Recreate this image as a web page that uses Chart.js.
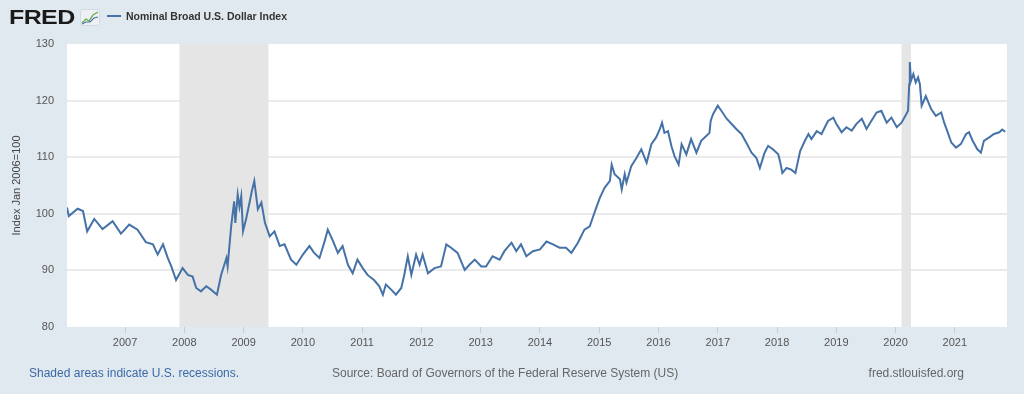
<!DOCTYPE html>
<html>
<head>
<meta charset="utf-8">
<script src="https://cdn.jsdelivr.net/npm/chart.js@4/dist/chart.umd.min.js"></script>
<style>
  html, body { margin: 0; padding: 0; background: #e1e9f0; }
  body { width: 1024px; height: 394px; position: relative; overflow: hidden; font-family: 'Liberation Sans', Arial, sans-serif; }
  #chart { position: absolute; left: 0; top: 0; }
  .logo { position: absolute; left: 9px; top: 6px; font-size: 20px; font-weight: bold; color: #1a1a1a; transform: scaleX(1.25); transform-origin: left top; letter-spacing: -0.5px; }
  .icon { position: absolute; left: 80px; top: 9px; }
  .legend { position: absolute; left: 107px; top: 10px; font-size: 10.5px; font-weight: bold; color: #333; white-space: nowrap; }
  .legend i { display: inline-block; width: 14px; height: 2px; background: #4572a7; vertical-align: middle; margin-right: 5px; position: relative; top: -1px; }
  .foot { position: absolute; top: 366px; font-size: 12px; white-space: nowrap; }
</style>
</head>
<body>
<canvas id="chart" width="1024" height="394"></canvas>
<div class="logo">FRED</div>
<svg class="icon" width="20" height="17" viewBox="0 0 20 17">
  <rect x="0.5" y="0.5" width="19" height="16" rx="2" fill="#eef1f3" stroke="#d3d9de"/>
  <polyline points="2,14 6,10 9,12 13,6 18,3" fill="none" stroke="#6aa84f" stroke-width="1.3"/>
  <polyline points="2,15 6,13 10,13 14,9 18,8" fill="none" stroke="#4572a7" stroke-width="1.1"/>
</svg>
<div class="legend"><i></i>Nominal Broad U.S. Dollar Index</div>
<div class="foot" style="left:29px; color:#3a6aa6;">Shaded areas indicate U.S. recessions.</div>
<div class="foot" style="left:332px; color:#666;">Source: Board of Governors of the Federal Reserve System (US)</div>
<div class="foot" style="right:60px; color:#666;">fred.stlouisfed.org</div>
<script>
// decimal years
const dates = [
  2006.02, 2006.05, 2006.20, 2006.29, 2006.36, 2006.48, 2006.62, 2006.79, 2006.93,
  2007.07, 2007.21, 2007.35, 2007.47, 2007.55, 2007.64, 2007.72, 2007.78, 2007.86, 2007.97,
  2008.06, 2008.14, 2008.20, 2008.28, 2008.37, 2008.45, 2008.55, 2008.62, 2008.71, 2008.73,
  2008.79, 2008.84, 2008.86, 2008.90, 2008.93, 2008.96, 2008.99,
  2009.04, 2009.10, 2009.14, 2009.18, 2009.24, 2009.30, 2009.36, 2009.44, 2009.52, 2009.61,
  2009.69, 2009.80, 2009.89, 2010.00,
  2010.11, 2010.19, 2010.28, 2010.36, 2010.42, 2010.50, 2010.59, 2010.67, 2010.76, 2010.84, 2010.92,
  2011.01, 2011.09, 2011.20, 2011.29, 2011.35, 2011.40, 2011.49, 2011.57, 2011.66, 2011.71,
  2011.77, 2011.83, 2011.91, 2011.97,
  2012.02, 2012.11, 2012.22, 2012.33, 2012.42, 2012.50, 2012.61, 2012.73, 2012.81, 2012.90,
  2013.01, 2013.09, 2013.20, 2013.32, 2013.40, 2013.52, 2013.60, 2013.68, 2013.77, 2013.88,
  2014.00, 2014.11, 2014.22, 2014.33, 2014.44, 2014.53, 2014.64, 2014.75, 2014.84, 2014.89, 2014.95,
  2015.01, 2015.09, 2015.18, 2015.21, 2015.26, 2015.35, 2015.38, 2015.43, 2015.46, 2015.54,
  2015.63, 2015.71, 2015.80, 2015.88, 2015.96,
  2016.02, 2016.06, 2016.10, 2016.16, 2016.22, 2016.27, 2016.34, 2016.39, 2016.47, 2016.55,
  2016.64, 2016.72, 2016.81, 2016.86, 2016.88, 2016.92,
  2017.00, 2017.06, 2017.15, 2017.23, 2017.32, 2017.40, 2017.48, 2017.57, 2017.65, 2017.71,
  2017.79, 2017.85, 2017.93,
  2018.02, 2018.05, 2018.09, 2018.16, 2018.24, 2018.31, 2018.39, 2018.47, 2018.53, 2018.58,
  2018.67, 2018.75, 2018.86, 2018.95,
  2019.00, 2019.09, 2019.17, 2019.26, 2019.34, 2019.43, 2019.51, 2019.59, 2019.68, 2019.76,
  2019.85, 2019.93,
  2020.02, 2020.10, 2020.18, 2020.21, 2020.23, 2020.24, 2020.26, 2020.30, 2020.34, 2020.38,
  2020.41, 2020.44, 2020.51, 2020.60, 2020.68, 2020.77, 2020.82, 2020.88, 2020.94,
  2021.02, 2021.10, 2021.19, 2021.24, 2021.30, 2021.38, 2021.44, 2021.49, 2021.58, 2021.66,
  2021.75, 2021.80, 2021.85
];
const values = [
  101.1, 99.6, 100.9, 100.5, 96.9, 99.1, 97.3, 98.7, 96.5,
  98.1, 97.2, 95.0, 94.6, 92.8, 94.6, 92.2, 90.7, 88.3, 90.4,
  89.2, 88.9, 86.9, 86.3, 87.2, 86.6, 85.7, 89.2, 92.2, 90.7,
  97.8, 102.2, 98.4, 103.4, 101.2, 103.1, 96.9,
  99.0, 102.0, 104.1, 105.8, 100.8, 102.0, 98.4, 96.0, 96.9, 94.3,
  94.6, 91.9, 91.0, 92.8,
  94.3, 93.1, 92.2, 94.9, 97.2, 95.4, 93.1, 94.3, 91.0, 89.5, 91.9,
  90.4, 89.2, 88.3, 87.2, 85.7, 87.5, 86.6, 85.7, 86.9, 89.2,
  92.5, 89.2, 92.8, 91.0,
  92.8, 89.5, 90.4, 90.7, 94.6, 94.0, 93.1, 90.1, 91.0, 91.9,
  90.7, 90.7, 92.5, 91.9, 93.4, 94.9, 93.4, 94.6, 92.5, 93.4,
  93.7, 95.1, 94.6, 94.0, 94.0, 93.1, 94.9, 97.2, 97.8, 99.3, 101.1,
  102.8, 104.6, 105.8, 108.7, 107.0, 106.1, 104.3, 107.0, 105.5, 108.4,
  109.9, 111.4, 109.0, 112.3, 113.5,
  114.9, 116.1, 114.3, 114.6, 111.9, 110.2, 108.7, 112.3, 110.5, 113.2,
  110.8, 112.9, 113.8, 114.3, 116.4, 117.6,
  119.1, 118.2, 116.8, 115.9, 114.9, 114.1, 112.6, 110.8, 109.9, 108.1,
  110.8, 112.0, 111.4,
  110.5, 109.3, 107.2, 108.1, 107.8, 107.2, 111.1, 112.9, 114.1, 113.2,
  114.6, 114.1, 116.4, 117.0,
  115.9, 114.4, 115.3, 114.7, 115.9, 116.8, 115.0, 116.4, 117.9, 118.2,
  116.1, 117.0,
  115.3, 116.1, 117.6, 118.2, 122.9, 126.8, 123.5, 124.7, 123.2, 124.1,
  122.9, 119.1, 120.8, 118.5, 117.3, 117.9, 116.1, 114.4, 112.6,
  111.7, 112.3, 114.1, 114.4, 112.9, 111.4, 110.8, 112.9, 113.5, 114.1,
  114.4, 114.9, 114.5
];
const recessionStart = [2007.917, 2020.10];
const recessionEnd = [2009.42, 2020.26];
const yearTicks = [2007, 2008, 2009, 2010, 2011, 2012, 2013, 2014, 2015, 2016, 2017, 2018, 2019, 2020, 2021];
const yTicks = [80, 90, 100, 110, 120, 130];

const points = dates.map((d, i) => ({ x: d, y: values[i] }));

// white plot area + grey recession bands under the line
const backdrop = {
  id: 'backdrop',
  beforeDatasetsDraw(chart) {
    const { ctx, chartArea: a, scales: { x } } = chart;
    ctx.save();
    ctx.fillStyle = '#e5e5e5';
    recessionStart.forEach((s, i) => {
      const x0 = x.getPixelForValue(s);
      const x1 = x.getPixelForValue(recessionEnd[i]);
      ctx.fillRect(x0, a.top, x1 - x0, a.bottom - a.top);
    });
    ctx.restore();
  },
  beforeDraw(chart) {
    const { ctx, chartArea: a } = chart;
    ctx.save();
    ctx.fillStyle = '#ffffff';
    ctx.fillRect(a.left, a.top, a.right - a.left, a.bottom - a.top);
    ctx.restore();
  }
};

new Chart(document.getElementById('chart'), {
  type: 'line',
  data: {
    datasets: [{
      label: 'Nominal Broad U.S. Dollar Index',
      data: points,
      borderColor: '#4572a7',
      borderWidth: 2,
      pointRadius: 0,
      tension: 0,
      fill: false
    }]
  },
  options: {
    responsive: false,
    animation: false,
    layout: { padding: { top: 44, right: 17, left: 0, bottom: 0 } },
    plugins: { legend: { display: false }, tooltip: { enabled: false } },
    scales: {
      x: {
        type: 'linear',
        min: 2006.02,
        max: 2021.88,
        afterBuildTicks: s => { s.ticks = yearTicks.map(v => ({ value: v })); },
        afterFit: s => { s.height = 67; },
        border: { display: false },
        grid: { drawOnChartArea: false, drawTicks: true, tickLength: 6, color: '#c5ced6' },
        ticks: {
          autoSkip: false,
          maxRotation: 0,
          padding: 3,
          color: '#555',
          font: { family: "'Liberation Sans', Arial, sans-serif", size: 11 },
          callback: v => String(v)
        }
      },
      y: {
        min: 80,
        max: 130,
        afterBuildTicks: s => { s.ticks = yTicks.map(v => ({ value: v })); },
        afterFit: s => { s.width = 67; },
        border: { display: false },
        grid: {
          drawTicks: false,
          color: c => (c.tick && (c.tick.value === 80 || c.tick.value === 130)) ? 'rgba(0,0,0,0)' : '#ebebeb',
          lineWidth: 2
        },
        ticks: {
          padding: 13,
          color: '#555',
          font: { family: "'Liberation Sans', Arial, sans-serif", size: 11 }
        },
        title: {
          display: true,
          text: 'Index Jan 2006=100',
          color: '#444',
          padding: { top: 10, bottom: 0 },
          font: { family: "'Liberation Sans', Arial, sans-serif", size: 11 }
        }
      }
    }
  },
  plugins: [backdrop]
});
</script>
</body>
</html>
